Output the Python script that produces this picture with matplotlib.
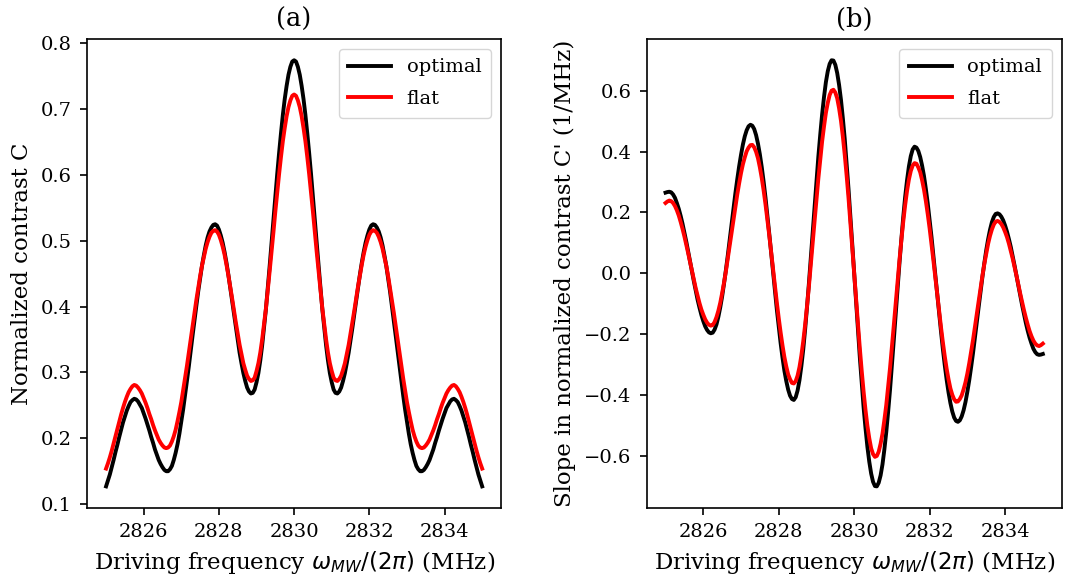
import numpy as np
import matplotlib
matplotlib.use("Agg")
import matplotlib.pyplot as plt

plt.rcParams['font.family'] = ['DejaVu Serif']
plt.rcParams['mathtext.fontset'] = 'dejavusans'

# driving frequency grid (MHz), 0.05 MHz steps
freq = np.linspace(2825.0, 2835.0, 201)

# normalized contrast C
contrast_optimal = [
    0.127, 0.136, 0.145, 0.156, 0.167, 0.179, 0.190, 0.202, 0.213, 0.224,
    0.233, 0.242, 0.249, 0.255, 0.258, 0.260, 0.259, 0.256, 0.251, 0.246,
    0.238, 0.230, 0.221, 0.212, 0.202, 0.193, 0.183, 0.175, 0.167, 0.161,
    0.156, 0.152, 0.150, 0.150, 0.153, 0.158, 0.167, 0.178, 0.191, 0.207,
    0.225, 0.244, 0.265, 0.287, 0.309, 0.333, 0.356, 0.379, 0.401, 0.423,
    0.443, 0.462, 0.478, 0.493, 0.505, 0.514, 0.520, 0.524, 0.525, 0.523,
    0.517, 0.508, 0.497, 0.483, 0.467, 0.449, 0.429, 0.409, 0.389, 0.368,
    0.349, 0.330, 0.314, 0.299, 0.287, 0.277, 0.271, 0.268, 0.269, 0.274,
    0.285, 0.299, 0.318, 0.341, 0.368, 0.396, 0.429, 0.462, 0.497, 0.531,
    0.567, 0.601, 0.633, 0.663, 0.691, 0.715, 0.735, 0.752, 0.764, 0.772,
    0.774,
    0.772, 0.764, 0.752, 0.735, 0.715, 0.691, 0.663, 0.633, 0.601, 0.567,
    0.531, 0.497, 0.462, 0.429, 0.396, 0.368, 0.341, 0.318, 0.299, 0.285,
    0.274, 0.269, 0.268, 0.271, 0.277, 0.287, 0.299, 0.314, 0.330, 0.349,
    0.368, 0.389, 0.409, 0.429, 0.449, 0.467, 0.483, 0.497, 0.508, 0.517,
    0.523, 0.525, 0.524, 0.520, 0.514, 0.505, 0.493, 0.478, 0.462, 0.443,
    0.423, 0.401, 0.379, 0.356, 0.333, 0.309, 0.287, 0.265, 0.244, 0.225,
    0.207, 0.191, 0.178, 0.167, 0.158, 0.153, 0.150, 0.150, 0.152, 0.156,
    0.161, 0.167, 0.175, 0.183, 0.193, 0.202, 0.212, 0.221, 0.230, 0.238,
    0.246, 0.251, 0.256, 0.259, 0.260, 0.258, 0.255, 0.249, 0.242, 0.233,
    0.224, 0.213, 0.202, 0.190, 0.179, 0.167, 0.156, 0.145, 0.136, 0.127,
]
contrast_flat = [
    0.154, 0.162, 0.171, 0.181, 0.192, 0.203, 0.214, 0.225, 0.236, 0.246,
    0.255, 0.263, 0.270, 0.275, 0.279, 0.281, 0.280, 0.277, 0.273, 0.268,
    0.261, 0.254, 0.246, 0.237, 0.229, 0.220, 0.212, 0.205, 0.198, 0.193,
    0.189, 0.186, 0.185, 0.186, 0.189, 0.195, 0.203, 0.213, 0.226, 0.240,
    0.255, 0.273, 0.291, 0.310, 0.330, 0.351, 0.371, 0.391, 0.410, 0.428,
    0.446, 0.462, 0.475, 0.488, 0.498, 0.506, 0.512, 0.515, 0.516, 0.514,
    0.509, 0.501, 0.491, 0.479, 0.464, 0.448, 0.431, 0.413, 0.394, 0.376,
    0.359, 0.342, 0.328, 0.314, 0.304, 0.295, 0.290, 0.287, 0.288, 0.292,
    0.302, 0.314, 0.330, 0.350, 0.373, 0.397, 0.425, 0.454, 0.483, 0.513,
    0.544, 0.573, 0.601, 0.627, 0.651, 0.671, 0.689, 0.703, 0.713, 0.720,
    0.722,
    0.720, 0.713, 0.703, 0.689, 0.671, 0.651, 0.627, 0.601, 0.573, 0.544,
    0.513, 0.483, 0.454, 0.425, 0.397, 0.373, 0.350, 0.330, 0.314, 0.302,
    0.292, 0.288, 0.287, 0.290, 0.295, 0.304, 0.314, 0.328, 0.342, 0.359,
    0.376, 0.394, 0.413, 0.431, 0.448, 0.464, 0.479, 0.491, 0.501, 0.509,
    0.514, 0.516, 0.515, 0.512, 0.506, 0.498, 0.488, 0.475, 0.462, 0.446,
    0.428, 0.410, 0.391, 0.371, 0.351, 0.330, 0.310, 0.291, 0.273, 0.255,
    0.240, 0.226, 0.213, 0.203, 0.195, 0.189, 0.186, 0.185, 0.186, 0.189,
    0.193, 0.198, 0.205, 0.212, 0.220, 0.229, 0.237, 0.246, 0.254, 0.261,
    0.268, 0.273, 0.277, 0.280, 0.281, 0.279, 0.275, 0.270, 0.263, 0.255,
    0.246, 0.236, 0.225, 0.214, 0.203, 0.192, 0.181, 0.171, 0.162, 0.154,
]

# slope C' (1/MHz)
slope_optimal = [
    0.265, 0.267, 0.268, 0.266, 0.259, 0.248, 0.231, 0.212, 0.189, 0.163,
    0.134, 0.104, 0.072, 0.039, 0.006, -0.026, -0.057, -0.087, -0.113, -0.137,
    -0.157, -0.174, -0.186, -0.194, -0.197, -0.195, -0.185, -0.168, -0.143, -0.112,
    -0.076, -0.034, 0.011, 0.059, 0.110, 0.161, 0.212, 0.262, 0.308, 0.351,
    0.389, 0.423, 0.450, 0.470, 0.483, 0.488, 0.485, 0.474, 0.454, 0.426,
    0.391, 0.349, 0.301, 0.248, 0.190, 0.129, 0.067, 0.005, -0.057, -0.119,
    -0.175, -0.229, -0.277, -0.320, -0.354, -0.382, -0.402, -0.413, -0.416, -0.407,
    -0.385, -0.351, -0.305, -0.250, -0.184, -0.111, -0.033, 0.050, 0.134, 0.219,
    0.302, 0.383, 0.455, 0.522, 0.579, 0.628, 0.664, 0.688, 0.700, 0.699,
    0.685, 0.658, 0.619, 0.570, 0.509, 0.441, 0.360, 0.277, 0.187, 0.094,
    0.000,
    -0.094, -0.187, -0.277, -0.360, -0.441, -0.509, -0.570, -0.619, -0.658, -0.685,
    -0.699, -0.700, -0.688, -0.664, -0.628, -0.579, -0.522, -0.455, -0.383, -0.302,
    -0.219, -0.134, -0.050, 0.033, 0.111, 0.184, 0.250, 0.305, 0.351, 0.385,
    0.407, 0.416, 0.413, 0.402, 0.382, 0.354, 0.320, 0.277, 0.229, 0.175,
    0.119, 0.057, -0.005, -0.067, -0.129, -0.190, -0.248, -0.301, -0.349, -0.391,
    -0.426, -0.454, -0.474, -0.485, -0.488, -0.483, -0.470, -0.450, -0.423, -0.389,
    -0.351, -0.308, -0.262, -0.212, -0.161, -0.110, -0.059, -0.011, 0.034, 0.076,
    0.112, 0.143, 0.168, 0.185, 0.195, 0.197, 0.194, 0.186, 0.174, 0.157,
    0.137, 0.113, 0.087, 0.057, 0.026, -0.006, -0.039, -0.072, -0.104, -0.134,
    -0.163, -0.189, -0.212, -0.231, -0.248, -0.259, -0.266, -0.268, -0.267, -0.265,
]
slope_flat = [
    0.231, 0.236, 0.239, 0.237, 0.231, 0.221, 0.207, 0.190, 0.169, 0.146,
    0.121, 0.094, 0.066, 0.037, 0.007, -0.021, -0.049, -0.074, -0.098, -0.119,
    -0.136, -0.151, -0.162, -0.169, -0.172, -0.170, -0.160, -0.144, -0.123, -0.097,
    -0.065, -0.031, 0.007, 0.048, 0.091, 0.133, 0.177, 0.219, 0.258, 0.295,
    0.329, 0.358, 0.381, 0.401, 0.413, 0.421, 0.422, 0.414, 0.399, 0.378,
    0.348, 0.313, 0.272, 0.226, 0.176, 0.124, 0.069, 0.013, -0.042, -0.096,
    -0.147, -0.194, -0.237, -0.275, -0.306, -0.332, -0.348, -0.360, -0.362, -0.354,
    -0.336, -0.308, -0.270, -0.223, -0.169, -0.108, -0.043, 0.027, 0.099, 0.171,
    0.242, 0.311, 0.373, 0.433, 0.482, 0.527, 0.560, 0.586, 0.600, 0.603,
    0.594, 0.575, 0.542, 0.501, 0.449, 0.389, 0.321, 0.247, 0.166, 0.085,
    0.000,
    -0.085, -0.166, -0.247, -0.321, -0.389, -0.449, -0.501, -0.542, -0.575, -0.594,
    -0.603, -0.600, -0.586, -0.560, -0.527, -0.482, -0.433, -0.373, -0.311, -0.242,
    -0.171, -0.099, -0.027, 0.043, 0.108, 0.169, 0.223, 0.270, 0.308, 0.336,
    0.354, 0.362, 0.360, 0.348, 0.332, 0.306, 0.275, 0.237, 0.194, 0.147,
    0.096, 0.042, -0.013, -0.069, -0.124, -0.176, -0.226, -0.272, -0.313, -0.348,
    -0.378, -0.399, -0.414, -0.422, -0.421, -0.413, -0.401, -0.381, -0.358, -0.329,
    -0.295, -0.258, -0.219, -0.177, -0.133, -0.091, -0.048, -0.007, 0.031, 0.065,
    0.097, 0.123, 0.144, 0.160, 0.170, 0.172, 0.169, 0.162, 0.151, 0.136,
    0.119, 0.098, 0.074, 0.049, 0.021, -0.007, -0.037, -0.066, -0.094, -0.121,
    -0.146, -0.169, -0.190, -0.207, -0.221, -0.231, -0.237, -0.239, -0.236, -0.231,
]

xticks = [2826, 2828, 2830, 2832, 2834]
xlabel = r'Driving frequency $\omega_{MW}/(2\pi)$ (MHz)'

fig = plt.figure(figsize=(10.76, 5.83), dpi=100)
ax1 = fig.add_axes([0.0811, 0.1292, 0.3845, 0.804])
ax2 = fig.add_axes([0.601, 0.1292, 0.3857, 0.804])

ax1.plot(freq, contrast_optimal, color='black', lw=2.8, label='optimal')
ax1.plot(freq, contrast_flat, color='red', lw=2.8, label='flat')
ax1.set_yticks(np.arange(0.1, 0.81, 0.1))
ax1.set_ylabel('Normalized contrast C', fontsize=16.5, labelpad=6)
ax1.set_title('(a)', fontsize=18.5, pad=9)

ax2.plot(freq, slope_optimal, color='black', lw=2.8, label='optimal')
ax2.plot(freq, slope_flat, color='red', lw=2.8, label='flat')
ax2.set_yticks([-0.6, -0.4, -0.2, 0.0, 0.2, 0.4, 0.6])
ax2.set_ylabel("Slope in normalized contrast C' (1/MHz)", fontsize=16.5,
               labelpad=6)
ax2.set_title('(b)', fontsize=18.5, pad=9)

for ax in (ax1, ax2):
    ax.set_xticks(xticks)
    ax.set_xlabel(xlabel, fontsize=16.5, labelpad=6)
    ax.tick_params(labelsize=14, length=5.2, width=1.2, pad=5.8)
    for sp in ax.spines.values():
        sp.set_linewidth(1.2)
    ax.legend(loc='upper right', fontsize=14, labelspacing=0.7,
              handlelength=2.2, borderpad=0.5)

fig.savefig('out.png', dpi=100)
